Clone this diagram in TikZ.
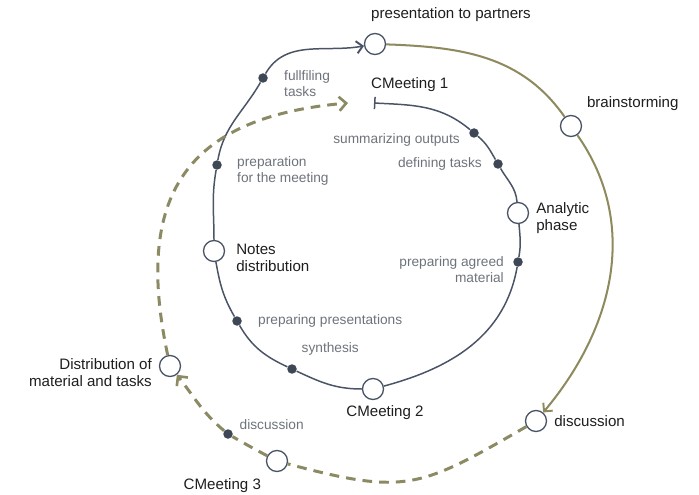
\documentclass[tikz,border=0pt]{standalone}
\usepackage{fontspec}
\setmainfont{Liberation Sans}
\usetikzlibrary{positioning,arrows.meta}
\definecolor{linecolour}{HTML}{4A5466}
\definecolor{dotcolour}{HTML}{3E4756}
\definecolor{olivecolour}{HTML}{8E8A5E}
\definecolor{dashcolour}{HTML}{8B8A63}
\definecolor{notecolour}{HTML}{6E737B}
\definecolor{textcolour}{HTML}{1E1E1E}

\begin{document}
\begin{tikzpicture}[
  x=0.02cm, y=0.02cm,
  stage/.style = {circle, draw=linecolour, line width=0.75pt, fill=white, minimum size=0.42cm, inner sep=0pt},
  spot/.style = {circle, fill=dotcolour, minimum size=0.19cm, inner sep=0pt},
  lab/.style = {font=\fontsize{8.6}{10}\selectfont, text=textcolour, inner sep=1pt},
  note/.style = {font=\fontsize{7.8}{9}\selectfont, text=notecolour, inner sep=1pt},
  inner/.style = {line width=0.85pt, draw=linecolour},
  outer/.style = {line width=1.15pt, draw=olivecolour},
  back/.style = {line width=1.7pt, draw=dashcolour, dash pattern=on 5.5pt off 4pt},
  tip/.style = {-{Straight Barb[length=3.5pt,width=7pt,line width=1.1pt]}},
  backtip/.style = {-{Straight Barb[length=4pt,width=8pt,line width=1.5pt]}}
  ]
  \useasboundingbox (0,0) rectangle (699,494);

  % outer ring
  \node[stage] (p1) at (375,450) {};
  \node[stage] (brain) at (571,368) {};
  \node[stage] (disc) at (536,73) {};
  \node[stage] (cm3) at (277,33) {};
  \node[stage] (dist) at (170,128) {};
  \node[spot] (dsc) at (228,60) {};

  % inner loop
  \coordinate (c1) at (374,391);
  \coordinate[left=0.52cm of c1] (c1in);
  \node[spot] (sum) at (474,361) {};
  \node[spot] (def) at (498,330) {};
  \node[stage] (ana) at (518,281) {};
  \node[spot] (agreed) at (518,232) {};
  \node[stage] (cm2) at (373,105) {};
  \node[spot] (synth) at (292,125) {};
  \node[spot] (prepres) at (237,173) {};
  \node[stage] (notes) at (214,243) {};
  \node[spot] (prep) at (217,329) {};
  \node[spot] (fulf) at (263,416) {};

  \node[lab, above=0.18cm of p1, xshift=1.52cm] (p1lab) {presentation to partners};
  \node[lab, above right=0.1cm and 0.12cm of brain] (brainlab) {brainstorming};
  \node[lab, right=0.1cm of disc] (disclab) {discussion};
  \node[lab, below left=0.15cm and 0.12cm of cm3] (cm3lab) {CMeeting 3};
  \node[lab, align=right, left=0.1cm of dist, yshift=-0.13cm] (distlab) {Distribution of\\material and tasks};
  \node[lab, align=left, right=0.18cm of notes, yshift=-0.14cm] (noteslab) {Notes\\distribution};
  \node[lab, align=left, right=0.1cm of ana, yshift=-0.1cm] (analab) {Analytic\\phase};
  \node[lab, below=0.06cm of cm2, xshift=0.24cm] (cm2lab) {CMeeting 2};
  \node[lab, above right=0.18cm and -0.1cm of c1] (c1lab) {CMeeting 1};

  \node[note, align=left, right=0.28cm of fulf, yshift=-0.12cm] (fulflab) {fullfiling\\tasks};
  \node[note, align=left, right=0.26cm of prep, yshift=-0.12cm] (preplab) {preparation\\for the meeting};
  \node[note, right=0.28cm of prepres] (prepreslab) {preparing presentations};
  \node[note, above right=0.15cm and 0.08cm of synth] (synthlab) {synthesis};
  \node[note, right=0.09cm of dsc, yshift=0.18cm] (dsclab) {discussion};
  \node[note, left=0.14cm of sum, yshift=-0.13cm] (sumlab) {summarizing outputs};
  \node[note, left=0.18cm of def] (deflab) {defining tasks};
  \node[note, align=right, left=0.14cm of agreed, yshift=-0.16cm] (agreedlab) {preparing agreed\\material};

  \draw[inner, {Bar[width=7pt,line width=0.85pt]}-] (c1) to[out=-3,in=140] (sum);
  \draw[inner] (sum) to[out=-40,in=120] (def) to[out=-60,in=95] (ana)
    to[out=-85,in=80] (agreed) to[out=-100,in=15] (cm2) to[out=180,in=-25] (synth)
    to[out=155,in=-60] (prepres) to[out=120,in=-80] (notes) to[out=90,in=-100] (prep)
    to[out=80,in=-120] (fulf);
  \draw[inner, tip] (fulf) to[out=60,in=190] (p1);

  \draw[outer] (p1) to[out=-2,in=125] (brain);
  \draw[outer, tip] (brain) to[out=-55,in=50] (disc);

  \draw[back] (disc) to[out=-150,in=-15,looseness=1.3] (cm3);
  \draw[back, backtip] (cm3) to[out=152,in=-30] (dsc) to[out=140,in=-52] (dist);
  \draw[back, backtip] (dist) to[out=102,in=185,looseness=1.35] (c1in);

\end{tikzpicture}
\end{document}
